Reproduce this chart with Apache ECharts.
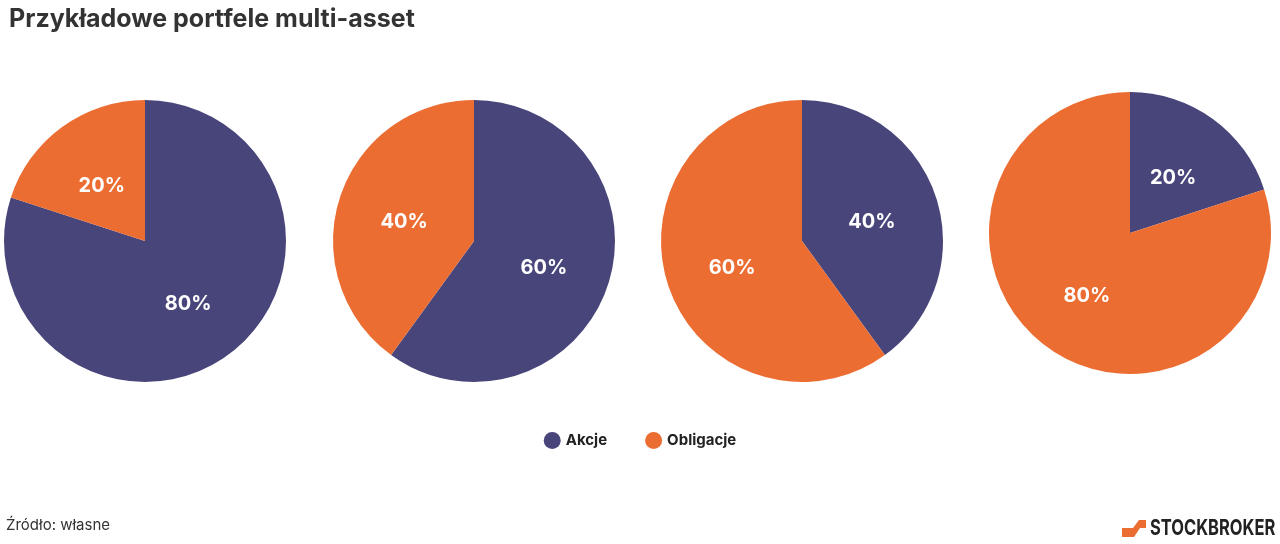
<!DOCTYPE html>
<html>
<head>
<meta charset="utf-8">
<script src="https://cdn.jsdelivr.net/npm/echarts@6/dist/echarts.min.js"></script>
<style>html,body{margin:0;background:#fff}#chart{width:1280px;height:544px}</style>
</head>
<body>
<div id="chart"></div>
<script>
// kategorie i udziały w portfelach
const categories = ['Akcje', 'Obligacje'];
const akcje = [80, 60, 40, 20];
const obligacje = [20, 40, 60, 80];
const centers = [[145, 241], [474, 241], [802, 241], [1130, 233]];
const colors = ['#48457a', '#ec6d32'];

const chart = echarts.init(document.getElementById('chart'));

const series = akcje.map(function (a, i) {
    return {
        type: 'pie',
        radius: 141,
        center: centers[i],
        startAngle: 90,
        silent: true,
        label: {
            show: true,
            position: 'inner',
            color: '#fff',
            fontSize: 20,
            fontWeight: 'bold',
            fontFamily: 'Inter',
            formatter: '{c}%',
            offset: [0, 4]
        },
        labelLine: { show: false },
        itemStyle: { borderWidth: 0 },
        data: [
            { name: categories[0], value: a },
            { name: categories[1], value: obligacje[i] }
        ]
    };
});

const option = {
    animation: false,
    color: colors,
    title: {
        text: 'Przykładowe portfele multi-asset',
        left: 4,
        top: 2,
        textStyle: { fontFamily: 'Inter', fontSize: 25, fontWeight: 'bold', color: '#333' }
    },
    legend: {
        data: categories,
        top: 427,
        left: 'center',
        icon: 'circle',
        itemWidth: 17,
        itemHeight: 17,
        itemGap: 38,
        textStyle: { fontFamily: 'Inter', fontSize: 15, fontWeight: 'bold', color: '#222' }
    },
    graphic: [
        {
            type: 'text', left: 6, top: 518,
            style: { text: 'Źródło: własne', font: '15px Inter', fill: '#333' }
        },
        {
            type: 'polygon',
            shape: { points: [[1122, 537], [1122, 528], [1133, 528], [1139, 520], [1146, 520], [1146, 528], [1140, 528], [1134, 537]] },
            style: { fill: '#ec6d32' }
        },
        {
            type: 'text', x: 1150, y: 517, scaleX: 0.75,
            style: { text: 'STOCKBROKER', font: 'bold 22px Inter', fill: '#222' }
        }
    ],
    series: series
};

chart.setOption(option);
</script>
</body>
</html>
